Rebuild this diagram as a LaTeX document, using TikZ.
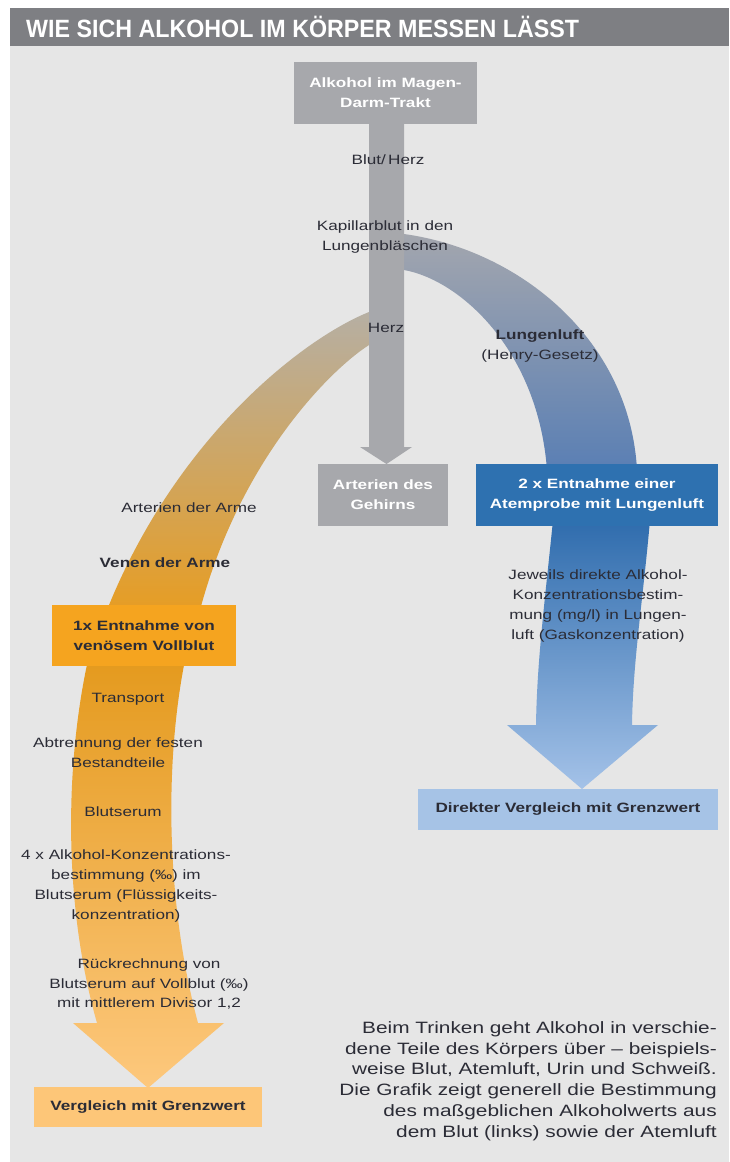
\documentclass[tikz,border=0pt]{standalone}
\usepackage{fontspec}
\setmainfont{Liberation Sans}
\newfontfamily\labfont{Liberation Sans}[FakeStretch=1.27]
\newfontfamily\ttlfont{Liberation Sans}[FakeStretch=0.93]
\definecolor{panelc}{HTML}{E6E6E6}
\definecolor{titlec}{HTML}{7E7F83}
\definecolor{grayc}{HTML}{A7A8AC}
\definecolor{bluebox}{HTML}{2E71B0}
\definecolor{lblue}{HTML}{A6C3E6}
\definecolor{orangebox}{HTML}{F5A41F}
\definecolor{lorange}{HTML}{FDC678}
\definecolor{txtc}{HTML}{2B2C36}
\definecolor{bandA}{HTML}{B6AFA3}
\definecolor{bandB}{HTML}{CDA468}
\definecolor{bandC}{HTML}{E69D24}
\definecolor{bandD}{HTML}{A3A6AE}
\definecolor{bandE}{HTML}{5A7FB4}
\definecolor{shaftBtop}{HTML}{2F6CAD}
\definecolor{shaftBbot}{HTML}{A4C2E8}
\definecolor{shaftOtop}{HTML}{E49A1E}
\definecolor{shaftObot}{HTML}{FDC87D}
\begin{document}
\begin{tikzpicture}[x=1pt,y=-1pt,
  lbl/.style={font=\labfont\fontsize{13.5}{19.8}\selectfont, text=txtc, align=center, inner sep=0pt},
  boxn/.style={inner sep=0pt, align=center, font=\labfont\bfseries\fontsize{13.5}{19.8}\selectfont},
  whitebox/.style={boxn, text=white},
  darkbox/.style={boxn, text=txtc}]
\useasboundingbox (0,0) rectangle (729,1162);
\fill[white] (0,0) rectangle (729,1162);
\fill[panelc] (10,46) rectangle (729,1162);
\fill[titlec] (10,8) rectangle (729,46);
\node[anchor=base west, inner sep=0pt, text=white, font=\ttlfont\bfseries\fontsize{25}{30}\selectfont] (title) at (26,37) {WIE SICH ALKOHOL IM KÖRPER MESSEN LÄSST};

% curved band to the left (blood)
\shade[top color=bandA, middle color=bandB, bottom color=bandC]
  (386,312) -- (369,312) .. controls (300,340) and (175,440) .. (107,610)
  -- (200,610) .. controls (240,460) and (330,370) .. (369,345) -- (386,345) -- cycle;
% curved band to the right (breath)
\shade[top color=bandD, bottom color=bandE]
  (386,234) -- (404,234) .. controls (520,250) and (630,340) .. (637,470)
  -- (547,470) .. controls (538,350) and (460,280) .. (404,270) -- (386,270) -- cycle;
% central gray arrow
\fill[grayc] (369,120) -- (404,120) -- (404,447) -- (412,447) -- (386.5,464)
  -- (360,447) -- (369,447) -- cycle;
% lower blue arrow
\shade[top color=shaftBtop, bottom color=shaftBbot]
  (553,520) .. controls (545,600) and (537,660) .. (536,725) -- (507,725) -- (582,789)
  -- (658,725) -- (632,725) .. controls (633,660) and (643,600) .. (650,520) -- cycle;
% lower orange arrow
\shade[top color=shaftOtop, bottom color=shaftObot]
  (88,660) .. controls (66,760) and (62,900) .. (97,1023) -- (73,1023) -- (148,1088)
  -- (224,1023) -- (198,1023) .. controls (165,900) and (165,760) .. (185,660) -- cycle;

% boxes
\node[whitebox, fill=grayc, minimum width=183pt, minimum height=62pt] (magen) at (385.5,93) {Alkohol im Magen-\\Darm-Trakt};
\node[whitebox, fill=grayc, minimum width=130pt, minimum height=62pt] (gehirn) at (383,495) {Arterien des\\Gehirns};
\node[whitebox, fill=bluebox, minimum width=242pt, minimum height=62pt] (atem) at (597,495) {2 x Entnahme einer\\Atemprobe mit Lungenluft};
\node[darkbox, fill=orangebox, minimum width=184pt, minimum height=61pt] (venoes) at (144,635.5) {1x Entnahme von\\venösem Vollblut};
\node[darkbox, fill=lorange, minimum width=228pt, minimum height=40pt] (vergl) at (148,1107) {Vergleich mit Grenzwert};
\node[darkbox, fill=lblue, minimum width=300pt, minimum height=41pt] (direkt) at (568,809.5) {Direkter Vergleich mit Grenzwert};

% labels
\node[lbl] (blutherz) at (388,160) {Blut/\,Herz};
\node[lbl] (kapillar) at (385,237) {Kapillarblut in den\\Lungenbläschen};
\node[lbl] (herz) at (386,328) {Herz};
\node[lbl] (lunge) at (540,346) {\textbf{Lungenluft}\\(Henry-Gesetz)};
\node[lbl] (artarme) at (189,508) {Arterien der Arme};
\node[lbl] (venen) at (165,563) {\textbf{Venen der Arme}};
\node[lbl] (jeweils) at (598,606) {Jeweils direkte Alkohol-\\Konzentrationsbestim-\\mung (mg/l) in Lungen-\\luft (Gaskonzentration)};
\node[lbl] (transport) at (128,699) {Transport};
\node[lbl] (abtrennung) at (118,753) {Abtrennung der festen\\Bestandteile};
\node[lbl] (serum) at (123,812) {Blutserum};
\node[lbl] (vier) at (126,886) {4 x Alkohol-Konzentrations-\\bestimmung (‰) im\\Blutserum (Flüssigkeits-\\konzentration)};
\node[lbl] (rueck) at (149,984) {Rückrechnung von\\Blutserum auf Vollblut (‰)\\mit mittlerem Divisor 1,2};

\node[anchor=east, align=right, inner sep=0pt, text=txtc, font=\labfont\fontsize{16.4}{20.7}\selectfont] (note) at (717,1081)
 {Beim Trinken geht Alkohol in verschie-\\dene Teile des Körpers über – beispiels-\\weise Blut, Atemluft, Urin und Schweiß.\\Die Grafik zeigt generell die Bestimmung\\des maßgeblichen Alkoholwerts aus\\dem Blut (links) sowie der Atemluft};
\end{tikzpicture}
\end{document}
